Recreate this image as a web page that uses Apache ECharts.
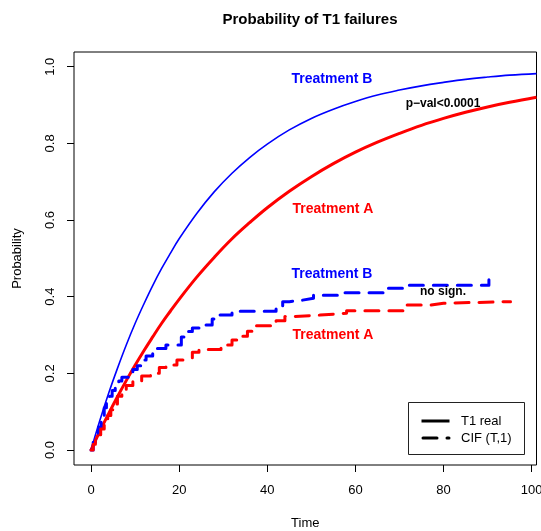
<!DOCTYPE html>
<html>
<head>
<meta charset="utf-8">
<script src="https://cdn.jsdelivr.net/npm/echarts@6/dist/echarts.min.js"></script>
<style>html,body{margin:0;padding:0;background:#fff}#c{width:541px;height:531px}</style>
</head>
<body>
<div id="c"></div>
<script>
// ---- data ----
var xTicks = [0, 20, 40, 60, 80, 100];
var yTicks = [0, 0.2, 0.4, 0.6, 0.8, 1.0];

// T1 real (solid curves)
var realTime  = [0, 2, 4, 6, 8, 10, 12, 14, 16, 18, 20, 24, 28, 32, 36, 40, 45, 50, 55, 60, 65, 70, 75, 80, 85, 90, 95, 101.1];
var realB     = [0, 0.077, 0.148, 0.213, 0.274, 0.330, 0.381, 0.429, 0.473, 0.513, 0.551, 0.617, 0.674, 0.722, 0.763, 0.798, 0.835, 0.865, 0.889, 0.909, 0.926, 0.939, 0.950, 0.959, 0.967, 0.973, 0.978, 0.982];
var realA     = [0, 0.049, 0.095, 0.139, 0.181, 0.221, 0.259, 0.295, 0.330, 0.362, 0.393, 0.451, 0.503, 0.551, 0.593, 0.632, 0.675, 0.713, 0.747, 0.777, 0.803, 0.826, 0.847, 0.865, 0.881, 0.895, 0.907, 0.920];

// CIF (T,1) step curves
var cifBTime = [0, 0.5, 1, 1.7, 2.3, 3, 3.5, 4.2, 4.8, 5.5, 6.3, 7, 8.5, 9.5, 10.5, 11.5, 12.5, 14, 15, 17, 20.5, 21.5, 23, 24.5, 27.5, 28.5, 32, 42, 43.5, 45, 48, 50.5, 57, 67.5, 71.5, 90.3];
var cifB     = [0, 0.02, 0.04, 0.06, 0.08, 0.11, 0.125, 0.14, 0.155, 0.17, 0.18, 0.19, 0.2, 0.21, 0.22, 0.235, 0.245, 0.255, 0.265, 0.274, 0.295, 0.309, 0.318, 0.326, 0.342, 0.352, 0.362, 0.375, 0.387, 0.391, 0.396, 0.404, 0.41, 0.422, 0.43, 0.444];
var cifATime = [0, 0.5, 1, 1.5, 2.2, 3, 3.8, 4.5, 5.3, 6, 7, 8, 9.5, 11.5, 13.5, 15.5, 17, 19.5, 21, 23, 24.5, 29.5, 32, 33.5, 35.5, 37, 42, 44, 45.5, 52, 58, 71, 77, 80, 95.2];
var cifA     = [0, 0.015, 0.025, 0.04, 0.055, 0.075, 0.09, 0.105, 0.12, 0.14, 0.155, 0.168, 0.18, 0.193, 0.2, 0.215, 0.222, 0.235, 0.24, 0.255, 0.262, 0.274, 0.287, 0.297, 0.31, 0.324, 0.337, 0.348, 0.352, 0.357, 0.363, 0.378, 0.383, 0.387, 0.387];

function pairs(xs, ys) { return xs.map(function (x, i) { return [x, ys[i]]; }); }

var FONT = 'Liberation Sans, Arial, Helvetica, sans-serif';
var BLUE = '#0000ff', RED = '#ff0000';

var chart = echarts.init(document.getElementById('c'), null, { renderer: 'canvas' });
chart.setOption({
  animation: false,
  backgroundColor: '#ffffff',
  title: {
    text: 'Probability of T1 failures',
    left: 305, top: 7, textAlign: 'center',
    textStyle: { fontFamily: FONT, fontSize: 15, fontWeight: 'bold', color: '#000' }
  },
  grid: { left: 74, top: 52, right: 4.5, bottom: 66, show: true, borderColor: '#000', borderWidth: 1,
    backgroundColor: 'transparent', containLabel: false, outerBoundsMode: 'none' },
  xAxis: {
    type: 'value', min: -3.86, max: 101.1,
    name: 'Time', nameLocation: 'middle', nameGap: 52,
    nameTextStyle: { fontFamily: FONT, fontSize: 13, color: '#000' },
    axisLine: { show: false, onZero: false },
    splitLine: { show: false },
    axisTick: { show: true, inside: false, length: 7, customValues: xTicks, lineStyle: { color: '#000' } },
    axisLabel: { customValues: xTicks, margin: 19, fontFamily: FONT, fontSize: 13, color: '#000', hideOverlap: false }
  },
  yAxis: {
    type: 'value', min: -0.0391, max: 1.0383,
    name: 'Probability', nameLocation: 'middle', nameGap: 50, nameRotate: 90,
    nameTextStyle: { fontFamily: FONT, fontSize: 13, color: '#000' },
    axisLine: { show: false, onZero: false },
    splitLine: { show: false },
    axisTick: { show: true, inside: false, length: 7, customValues: yTicks, lineStyle: { color: '#000' } },
    axisLabel: { customValues: yTicks, rotate: 90, margin: 17, fontFamily: FONT, fontSize: 13, color: '#000',
      formatter: function (v) { return v.toFixed(1); } }
  },
  series: [
    { name: 'T1 real B', type: 'line', data: pairs(realTime, realB), smooth: 0.4, symbol: 'none', clip: true,
      lineStyle: { color: BLUE, width: 1.6 }, z: 3 },
    { name: 'T1 real A', type: 'line', data: pairs(realTime, realA), smooth: 0.4, symbol: 'none', clip: true,
      lineStyle: { color: RED, width: 3 }, z: 3 },
    { name: 'CIF B', type: 'line', step: 'end', data: pairs(cifBTime, cifB), symbol: 'none', clip: true,
      lineStyle: { color: BLUE, width: 3, type: [14, 10], cap: 'round', join: 'round' }, z: 4 },
    { name: 'CIF A', type: 'line', step: 'end', data: pairs(cifATime, cifA), symbol: 'none', clip: true,
      lineStyle: { color: RED, width: 3, type: [14, 10], cap: 'round', join: 'round' }, z: 4 }
  ],
  graphic: [
    { type: 'text', x: 332, y: 79, z: 10, style: { text: 'Treatment B', fill: BLUE, font: 'bold 14px ' + FONT, textAlign: 'center', textVerticalAlign: 'middle' } },
    { type: 'text', x: 443, y: 104, z: 10, style: { text: 'p\u2212val<0.0001', fill: '#000', font: 'bold 12px ' + FONT, textAlign: 'center', textVerticalAlign: 'middle' } },
    { type: 'text', x: 333, y: 209, z: 10, style: { text: 'Treatment A', fill: RED, font: 'bold 14px ' + FONT, textAlign: 'center', textVerticalAlign: 'middle' } },
    { type: 'text', x: 332, y: 274, z: 10, style: { text: 'Treatment B', fill: BLUE, font: 'bold 14px ' + FONT, textAlign: 'center', textVerticalAlign: 'middle' } },
    { type: 'text', x: 443, y: 292, z: 10, style: { text: 'no sign.', fill: '#000', font: 'bold 12px ' + FONT, textAlign: 'center', textVerticalAlign: 'middle' } },
    { type: 'text', x: 333, y: 335, z: 10, style: { text: 'Treatment A', fill: RED, font: 'bold 14px ' + FONT, textAlign: 'center', textVerticalAlign: 'middle' } },
    // legend
    { type: 'rect', z: 10, shape: { x: 408.5, y: 402.5, width: 116, height: 52 }, style: { fill: '#fff', stroke: '#222', lineWidth: 1 } },
    { type: 'line', z: 11, shape: { x1: 421.5, y1: 421, x2: 449.5, y2: 421 }, style: { stroke: '#000', lineWidth: 3 } },
    { type: 'line', z: 11, shape: { x1: 423, y1: 438, x2: 449, y2: 438 }, style: { stroke: '#000', lineWidth: 3, lineDash: [14, 10], lineCap: 'round' } },
    { type: 'text', x: 461, y: 421, z: 11, style: { text: 'T1 real', fill: '#000', font: '13px ' + FONT, textAlign: 'left', textVerticalAlign: 'middle' } },
    { type: 'text', x: 461, y: 438, z: 11, style: { text: 'CIF (T,1)', fill: '#000', font: '13px ' + FONT, textAlign: 'left', textVerticalAlign: 'middle' } }
  ]
});
</script>
</body>
</html>
